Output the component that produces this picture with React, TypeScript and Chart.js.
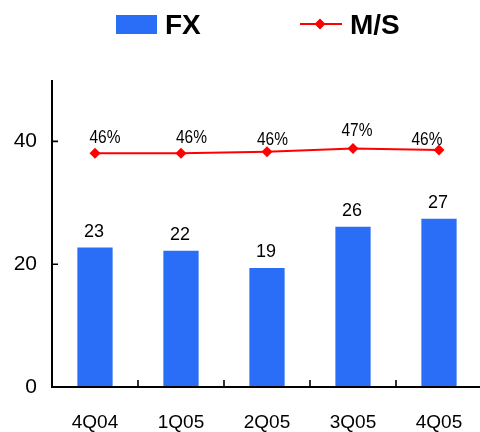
import React, { useEffect, useRef } from 'react';
import { Chart, registerables } from 'chart.js';

Chart.register(...registerables);

const categories = ['4Q04', '1Q05', '2Q05', '3Q05', '4Q05'];
const fxValues = [22.7, 22.2, 19.4, 26.1, 27.4];
const fxLabels = ['23', '22', '19', '26', '27'];
const msValues = [45.7, 45.7, 46.0, 46.6, 46.3];
const msLabels = ['46%', '46%', '46%', '47%', '46%'];
const yTickValues = [0, 20, 40];
const seriesNames = ['FX', 'M/S'];

// styling constants (label nudges as placed in the reference)
const msLabelDx = [10, 10.5, 5.5, 4, -12];
const msLabelDy = [-15, -15, -12, -18, -10];

const BLUE = '#2A6EF8';
const RED = '#FF0000';
const FONT = '"Liberation Sans", Arial, Helvetica, sans-serif';

const axesPlugin = {
  id: 'customAxes',
  afterDatasetsDraw(chart: any) {
    const { ctx, chartArea, scales } = chart;
    const x = scales.x;
    const y = scales.y;
    ctx.save();
    ctx.strokeStyle = '#000';
    ctx.lineWidth = 2;
    ctx.beginPath();
    ctx.moveTo(chartArea.left, chartArea.top);
    ctx.lineTo(chartArea.left, chartArea.bottom + 1);
    ctx.moveTo(chartArea.left - 1, chartArea.bottom);
    ctx.lineTo(chartArea.right + 20, chartArea.bottom);
    ctx.stroke();
    ctx.lineWidth = 1.6;
    ctx.beginPath();
    yTickValues.forEach((v) => {
      const py = y.getPixelForValue(v);
      ctx.moveTo(chartArea.left, py);
      ctx.lineTo(chartArea.left + 6, py);
    });
    for (let i = 0; i < categories.length - 1; i++) {
      const px = (x.getPixelForValue(i) + x.getPixelForValue(i + 1)) / 2;
      ctx.moveTo(px, chartArea.bottom);
      ctx.lineTo(px, chartArea.bottom - 7);
    }
    ctx.stroke();
    ctx.restore();
  },
};

const labelPlugin = {
  id: 'valueLabels',
  afterDatasetsDraw(chart: any) {
    const ctx = chart.ctx;
    ctx.save();
    ctx.fillStyle = '#000';
    ctx.textAlign = 'center';
    ctx.textBaseline = 'middle';
    ctx.font = '18px ' + FONT;
    chart.getDatasetMeta(1).data.forEach((el: any, i: number) => {
      ctx.fillText(fxLabels[i], el.x - 1, el.y - 16);
    });
    chart.getDatasetMeta(0).data.forEach((el: any, i: number) => {
      const tx = el.x + msLabelDx[i];
      const ty = el.y + msLabelDy[i];
      ctx.save();
      ctx.translate(tx, ty);
      ctx.scale(0.86, 1);
      ctx.fillText(msLabels[i], 0, 0);
      ctx.restore();
    });
    ctx.restore();
  },
};

const legendPlugin = {
  id: 'customLegend',
  afterDraw(chart: any) {
    const ctx = chart.ctx;
    ctx.save();
    ctx.fillStyle = BLUE;
    ctx.fillRect(116, 15, 41, 19);
    ctx.fillStyle = '#000';
    ctx.font = 'bold 28px ' + FONT;
    ctx.textAlign = 'left';
    ctx.textBaseline = 'alphabetic';
    ctx.fillText(seriesNames[0], 165, 33.5);
    ctx.strokeStyle = RED;
    ctx.lineWidth = 2;
    ctx.beginPath();
    ctx.moveTo(300, 24);
    ctx.lineTo(342, 24);
    ctx.stroke();
    ctx.fillStyle = RED;
    ctx.beginPath();
    ctx.moveTo(320, 18.5);
    ctx.lineTo(325.5, 24);
    ctx.lineTo(320, 29.5);
    ctx.lineTo(314.5, 24);
    ctx.closePath();
    ctx.fill();
    ctx.fillStyle = '#000';
    ctx.fillText(seriesNames[1], 350, 33.5);
    ctx.restore();
  },
};

export default function App() {
  const ref = useRef<HTMLCanvasElement | null>(null);

  useEffect(() => {
    if (!ref.current) return;
    const chart = new Chart(ref.current, {
      type: 'bar',
      data: {
        labels: categories,
        datasets: [
          {
            type: 'line',
            label: seriesNames[1],
            data: msValues,
            yAxisID: 'y1',
            borderColor: RED,
            backgroundColor: RED,
            borderWidth: 2,
            pointStyle: 'rectRot',
            pointRadius: 5.5,
            pointBackgroundColor: RED,
            pointBorderWidth: 0,
            tension: 0,
            order: 0,
          } as any,
          {
            type: 'bar',
            label: seriesNames[0],
            data: fxValues,
            yAxisID: 'y',
            backgroundColor: BLUE,
            borderWidth: 0,
            categoryPercentage: 1,
            barPercentage: 0.41,
            order: 1,
          } as any,
        ],
      },
      options: {
        animation: false,
        responsive: false,
        layout: { padding: { top: 80, right: 8, left: 0, bottom: 0 } },
        plugins: {
          legend: { display: false },
          tooltip: { enabled: false },
        },
        scales: {
          x: {
            grid: { display: false, drawTicks: false },
            border: { display: false },
            ticks: { color: '#000', font: { size: 19, family: FONT }, padding: 24 },
            afterFit: (s: any) => {
              s.height = 45;
            },
          },
          y: {
            min: 0,
            max: 50,
            position: 'left',
            grid: { display: false, drawTicks: false },
            border: { display: false },
            ticks: { stepSize: 20, color: '#000', font: { size: 21, family: FONT }, padding: 15 },
            afterBuildTicks: (s: any) => {
              s.ticks = yTickValues.map((v) => ({ value: v }));
            },
            afterFit: (s: any) => {
              s.width = 52;
            },
          },
          y1: {
            min: 0,
            max: 60,
            display: false,
          },
        },
      } as any,
      plugins: [axesPlugin, labelPlugin, legendPlugin],
    });
    return () => chart.destroy();
  }, []);

  return (
    <div style={{ position: 'fixed', left: 0, top: 0, width: 480, height: 432, overflow: 'hidden', background: '#fff' }}>
      <canvas ref={ref} width={490} height={432} style={{ display: 'block' }} />
    </div>
  );
}
